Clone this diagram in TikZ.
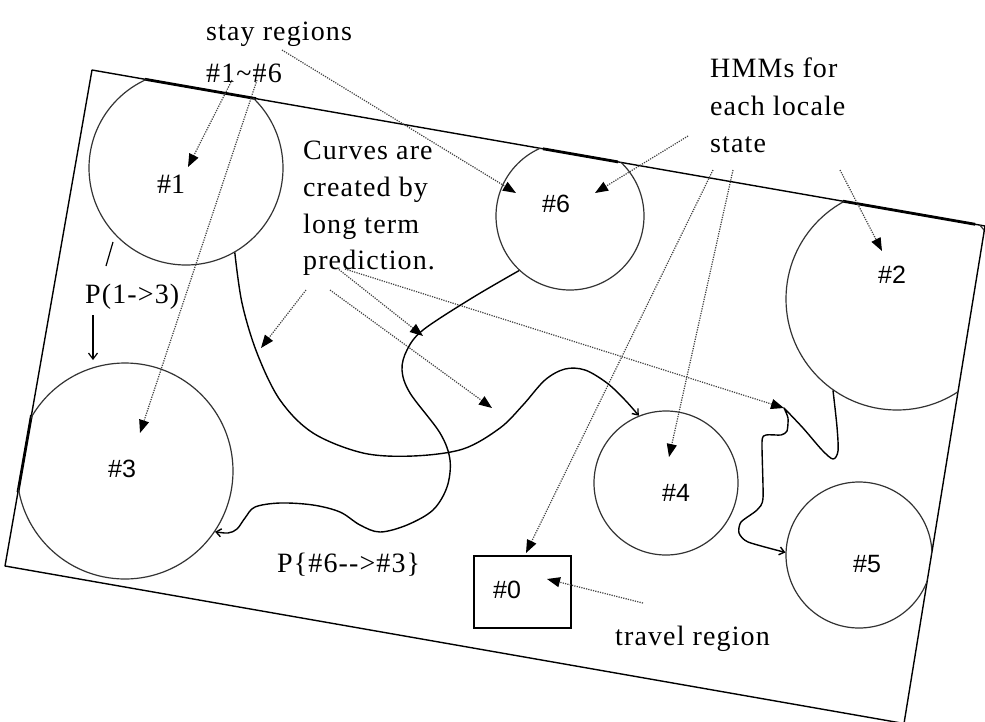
\documentclass[tikz,border=0pt]{standalone}
\usepackage{fontspec}
\setmainfont{Liberation Serif}
\newfontfamily\labsans{Liberation Sans}
\newfontfamily\txtfont[LetterSpace=4]{Liberation Serif}
\usetikzlibrary{arrows.meta,calc}

\tikzset{
  frame/.style={line width=1.4pt, line join=round},
  thickseg/.style={line width=2.8pt},
  region/.style={circle, draw=black!80, line width=1.2pt, inner sep=0pt},
  lbl/.style={inner sep=0pt, anchor=base west, font=\fontsize{25}{30}\selectfont\labsans},
  txt/.style={inner sep=0pt, align=left, font=\fontsize{28}{36.7}\selectfont\txtfont},
  pointer/.style={draw=black!75, line width=1.2pt, dash pattern=on 1.2pt off 1.2pt,
     -{Triangle[length=13pt,width=10pt,color=black,fill=black]}},
  flow/.style={line width=1.4pt, line join=round, -{Straight Barb[length=5pt,width=8pt]}},
}

\begin{document}
\begin{tikzpicture}[x=1pt,y=-1pt]
\fill[white] (0,0) rectangle (985,721);
\useasboundingbox (0,0) rectangle (985,721);

% frame
\coordinate (TL) at (92,70);
\coordinate (TR) at (985,226);
\coordinate (BR) at (904,723.5);
\coordinate (BL) at (5,566);
\draw[frame] (TL) -- (TR) -- (BR) -- (BL) -- cycle;
\draw[thickseg] ($(TL)!0.0594!(TR)$) -- ($(TL)!0.1837!(TR)$);
\draw[thickseg] ($(TL)!0.505!(TR)$) -- ($(TL)!0.589!(TR)$);
\draw[thickseg] ($(TL)!0.841!(TR)$) -- ($(TL)!0.989!(TR)$);
\draw[thickseg] ($(TL)!0.6956!(BL)$) -- ($(TL)!0.8508!(BL)$);

% stay regions
\begin{scope}
\clip (TL) -- (TR) -- (BR) -- (BL) -- cycle;
\node[region, minimum size=194pt] (c1) at (186,168) {};
\node[region, minimum size=148pt] (c6) at (570,216) {};
\node[region, minimum size=222pt] (c2) at (897,299) {};
\node[region, minimum size=216pt] (c3) at (125,471) {};
\node[region, minimum size=144pt] (c4) at (666,483) {};
\node[region, minimum size=146pt] (c5) at (859,555) {};
\end{scope}
\node[draw, line width=1.2pt, minimum width=97pt, minimum height=72pt, inner sep=0pt] (b0) at (522.5,592) {};

% region labels
\node[lbl, font=\fontsize{28}{30}\selectfont] (l1) at (157,193) {\#1};
\node[lbl] (l6) at (542,212) {\#6};
\node[lbl] (l2) at (878,283) {\#2};
\node[lbl] (l3) at (108,477) {\#3};
\node[lbl] (l4) at (662,501) {\#4};
\node[lbl] (l5) at (853,572) {\#5};
\node[lbl] (l0) at (493,598) {\#0};

% texts
\node[txt, anchor=north west, font=\fontsize{28}{42}\selectfont\txtfont] (stay) at (206,22) {stay regions\\\#1\textasciitilde\#6};
\node[txt, anchor=north west] (curves) at (303,141) {Curves are\\created by\\long term\\prediction.};
\node[txt, anchor=north west, font=\fontsize{28}{37.5}\selectfont\txtfont] (hmm) at (710,58) {HMMs for\\each locale\\state};
\node[txt, anchor=base west] (p13) at (85,303) {P(1->3)};
\node[txt, anchor=base west] (p63) at (277,572) {P\{\#6-{}->\#3\}};
\node[txt, anchor=base west] (travel) at (615,645) {travel region};

% dotted pointers
\coordinate (s1) at (232,80);  \coordinate (t1) at (188,167);
\coordinate (s2) at (257,80);  \coordinate (t2) at (140,433);
\coordinate (s3) at (282,50);  \coordinate (t3) at (516,193);
\coordinate (s4) at (688,136); \coordinate (t4) at (595,193);
\coordinate (s5) at (713,170); \coordinate (t5) at (526,553);
\coordinate (s6) at (733,170); \coordinate (t6) at (669,457);
\coordinate (s7) at (840,170); \coordinate (t7) at (882,251);
\coordinate (s8) at (306,290); \coordinate (t8) at (261,348);
\coordinate (s9) at (337,268); \coordinate (t9) at (423,336);
\coordinate (s10) at (330,290); \coordinate (t10) at (492,408);
\coordinate (s11) at (345,269); \coordinate (t11) at (784,408);
\coordinate (s12) at (643,603); \coordinate (t12) at (547,579);
\foreach \i in {1,...,12} \draw[pointer] (s\i) -- (t\i);

% predicted curves
\draw[flow] plot[smooth, tension=0.55] coordinates {(c1.-60) (242,303) (257,353) (280,400) (313,433) (363,453) (413,456) (463,449) (500,428) (523,405) (545,380) (565,369) (585,370) (607,383) (625,400) (c4.112)};
\draw[flow] plot[smooth, tension=0.55] coordinates {(c6.227) (472,298) (423,330) (407,350) (402,370) (410,393) (440,433) (450,460) (447,487) (433,510) (407,525) (380,532) (360,525) (340,512) (313,505) (280,503) (255,507) (245,518) (237,529) (228,533) (c3.-34)};
\draw[flow] plot[smooth, tension=0.5] coordinates {(c2.-125) (837,427) (838,451) (833,459) (822,450) (803,428) (784,408)} -- plot[smooth, tension=0.4] coordinates {(784,408) (788,418) (787,431) (781,435) (766,435) (762,442) (763,498) (757,510) (741,522) (739,533) (748,542) (c5.178)};

% P(1->3)
\coordinate (q1) at (113,242); \coordinate (q2) at (106,266);
\draw[line width=1.2pt] (q1) -- (q2);
\coordinate (q3) at (93,315); \coordinate (q4) at (93,360);
\draw[line width=1.2pt, -{Straight Barb[length=6pt,width=9pt]}] (q3) -- (q4);
\end{tikzpicture}
\end{document}
